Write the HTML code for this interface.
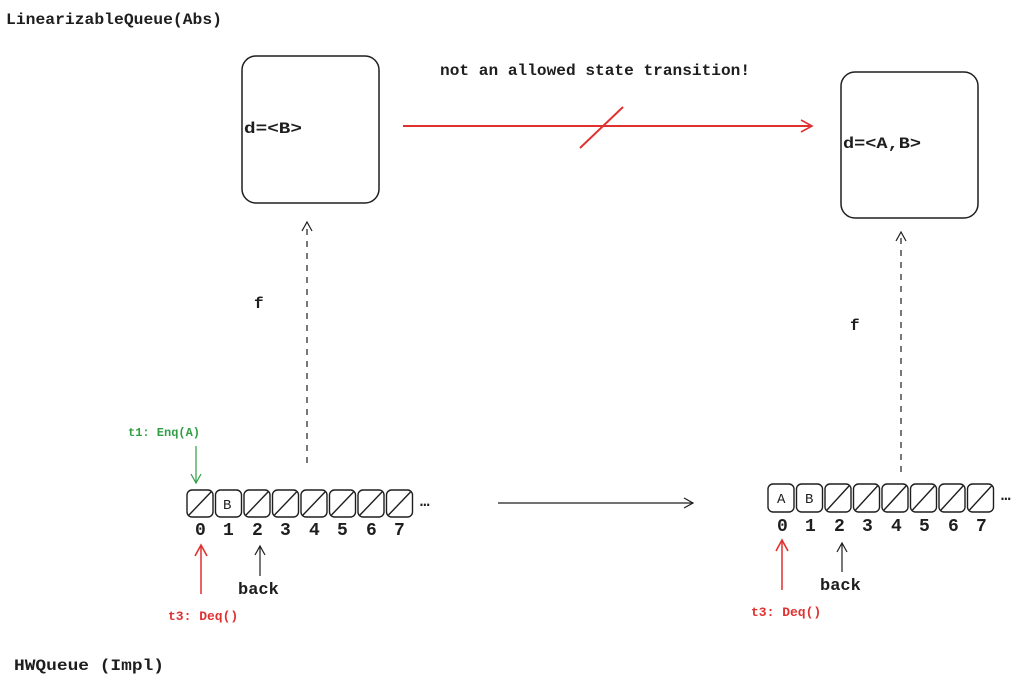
<!DOCTYPE html>
<html><head><meta charset="utf-8"><style>
html,body{margin:0;padding:0;background:#fff}
svg{display:block}
text{font-family:"Liberation Mono",monospace}
</style></head><body>
<svg width="1024" height="685" viewBox="0 0 1024 685" xmlns="http://www.w3.org/2000/svg">
<defs>
<marker id="ab" markerWidth="12" markerHeight="12" refX="10" refY="6" orient="auto" markerUnits="userSpaceOnUse"><path d="M1,1 L10,6 L1,11" fill="none" stroke="#1e1e1e" stroke-width="1.2"/></marker>
<marker id="ar" markerWidth="14" markerHeight="14" refX="12" refY="7" orient="auto" markerUnits="userSpaceOnUse"><path d="M1,1 L12,7 L1,13" fill="none" stroke="#e03131" stroke-width="1.6"/></marker>
<marker id="ag" markerWidth="12" markerHeight="12" refX="10" refY="6" orient="auto" markerUnits="userSpaceOnUse"><path d="M1,1 L10,6 L1,11" fill="none" stroke="#2f9e44" stroke-width="1.2"/></marker>
</defs>
<g font-size="16" fill="#1e1e1e" font-weight="bold">
<text x="6" y="24" textLength="216" lengthAdjust="spacingAndGlyphs">LinearizableQueue(Abs)</text>
<text x="14" y="670" textLength="150" lengthAdjust="spacingAndGlyphs">HWQueue (Impl)</text>
<text x="440" y="75" textLength="310" lengthAdjust="spacingAndGlyphs">not an allowed state transition!</text>
</g>
<rect x="242" y="56" width="137" height="147" rx="14" fill="none" stroke="#1e1e1e" stroke-width="1.5"/>
<text x="244" y="133" font-size="16" font-weight="bold" fill="#1e1e1e" textLength="58" lengthAdjust="spacingAndGlyphs">d=&lt;B&gt;</text>
<rect x="841" y="72" width="137" height="146" rx="14" fill="none" stroke="#1e1e1e" stroke-width="1.5"/>
<text x="843" y="148" font-size="16" font-weight="bold" fill="#1e1e1e" textLength="78" lengthAdjust="spacingAndGlyphs">d=&lt;A,B&gt;</text>
<line x1="403" y1="126" x2="812" y2="126" stroke="#e03131" stroke-width="2" marker-end="url(#ar)"/>
<line x1="580" y1="148" x2="623" y2="107" stroke="#e03131" stroke-width="2"/>
<line x1="307" y1="463" x2="307" y2="222" stroke="#1e1e1e" stroke-width="1.2" stroke-dasharray="6,6" marker-end="url(#ab)"/>
<line x1="901" y1="472" x2="901" y2="232" stroke="#1e1e1e" stroke-width="1.2" stroke-dasharray="6,6" marker-end="url(#ab)"/>
<text x="254" y="308" font-size="16" font-weight="bold" fill="#1e1e1e">f</text>
<text x="850" y="330" font-size="16" font-weight="bold" fill="#1e1e1e">f</text>
<line x1="498" y1="503" x2="693" y2="503" stroke="#1e1e1e" stroke-width="1.2" marker-end="url(#ab)"/>
<!-- left array -->
<g stroke="#1e1e1e" stroke-width="1.4" fill="none">
<rect x="187" y="490" width="26" height="27" rx="5"/><line x1="189" y1="515" x2="211" y2="492"/>
<rect x="215.5" y="490" width="26" height="27" rx="5"/>
<rect x="244" y="490" width="26" height="27" rx="5"/><line x1="246" y1="515" x2="268" y2="492"/>
<rect x="272.5" y="490" width="26" height="27" rx="5"/><line x1="274.5" y1="515" x2="296.5" y2="492"/>
<rect x="301" y="490" width="26" height="27" rx="5"/><line x1="303" y1="515" x2="325" y2="492"/>
<rect x="329.5" y="490" width="26" height="27" rx="5"/><line x1="331.5" y1="515" x2="353.5" y2="492"/>
<rect x="358" y="490" width="26" height="27" rx="5"/><line x1="360" y1="515" x2="382" y2="492"/>
<rect x="386.5" y="490" width="26" height="27" rx="5"/><line x1="388.5" y1="515" x2="410.5" y2="492"/>
</g>
<text x="223" y="509" font-size="14" fill="#1e1e1e">B</text>
<text x="420" y="506" font-size="16" font-weight="bold" fill="#1e1e1e">…</text>
<g font-size="18" fill="#1e1e1e" font-weight="bold">
<text x="195" y="535">0</text><text x="223" y="535">1</text><text x="252" y="535">2</text><text x="280" y="535">3</text><text x="309" y="535">4</text><text x="337" y="535">5</text><text x="366" y="535">6</text><text x="394" y="535">7</text>
</g>
<line x1="196" y1="446" x2="196" y2="483" stroke="#2f9e44" stroke-width="1.2" marker-end="url(#ag)"/>
<text x="128" y="436" font-size="12" font-weight="bold" fill="#2f9e44">t1: Enq(A)</text>
<line x1="201" y1="594" x2="201" y2="545" stroke="#e03131" stroke-width="1.5" marker-end="url(#ar)"/>
<text x="168" y="620" font-size="13" font-weight="bold" fill="#e03131">t3: Deq()</text>
<line x1="260" y1="576" x2="260" y2="546" stroke="#1e1e1e" stroke-width="1.2" marker-end="url(#ab)"/>
<text x="238" y="594" font-size="17" font-weight="bold" fill="#1e1e1e">back</text>
<!-- right array -->
<g stroke="#1e1e1e" stroke-width="1.4" fill="none">
<rect x="768" y="484" width="26" height="28" rx="5"/>
<rect x="796.5" y="484" width="26" height="28" rx="5"/>
<rect x="825" y="484" width="26" height="28" rx="5"/><line x1="827" y1="510" x2="849" y2="486"/>
<rect x="853.5" y="484" width="26" height="28" rx="5"/><line x1="855.5" y1="510" x2="877.5" y2="486"/>
<rect x="882" y="484" width="26" height="28" rx="5"/><line x1="884" y1="510" x2="906" y2="486"/>
<rect x="910.5" y="484" width="26" height="28" rx="5"/><line x1="912.5" y1="510" x2="934.5" y2="486"/>
<rect x="939" y="484" width="26" height="28" rx="5"/><line x1="941" y1="510" x2="963" y2="486"/>
<rect x="967.5" y="484" width="26" height="28" rx="5"/><line x1="969.5" y1="510" x2="991.5" y2="486"/>
</g>
<text x="777" y="503" font-size="14" fill="#1e1e1e">A</text>
<text x="805" y="503" font-size="14" fill="#1e1e1e">B</text>
<text x="1001" y="500" font-size="16" font-weight="bold" fill="#1e1e1e">…</text>
<g font-size="18" fill="#1e1e1e" font-weight="bold">
<text x="777" y="531">0</text><text x="805" y="531">1</text><text x="834" y="531">2</text><text x="862" y="531">3</text><text x="891" y="531">4</text><text x="919" y="531">5</text><text x="948" y="531">6</text><text x="976" y="531">7</text>
</g>
<line x1="782" y1="590" x2="782" y2="540" stroke="#e03131" stroke-width="1.5" marker-end="url(#ar)"/>
<text x="751" y="616" font-size="13" font-weight="bold" fill="#e03131">t3: Deq()</text>
<line x1="842" y1="572" x2="842" y2="543" stroke="#1e1e1e" stroke-width="1.2" marker-end="url(#ab)"/>
<text x="820" y="590" font-size="17" font-weight="bold" fill="#1e1e1e">back</text>
</svg>
</body></html>
